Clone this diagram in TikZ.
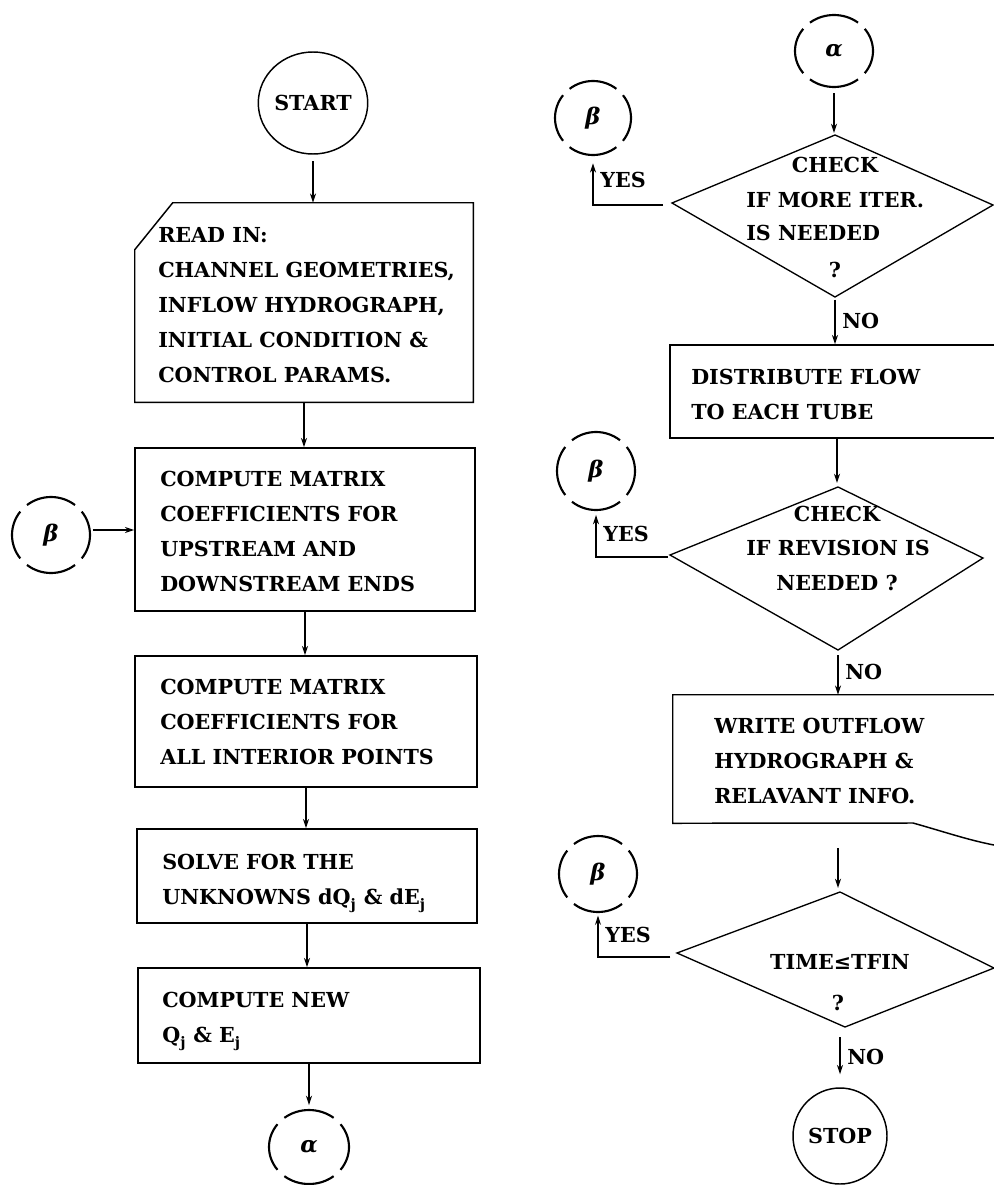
\documentclass[tikz,border=0pt]{standalone}
\usepackage{fontspec}
\setmainfont{DejaVu Serif}
\usetikzlibrary{arrows.meta,shapes.geometric,fit,calc}
\newcommand\gaparcs[3]{\foreach \a in {52,142,232,322}{\draw[ring] (#1.center) ++(\a:#2 and #3) arc[start angle=\a, delta angle=76, x radius=#2, y radius=#3];}}
\begin{document}
\begin{tikzpicture}[x=0.75pt,y=0.75pt,
  txt/.style={font=\bfseries\fontsize{15.5pt}{26.25pt}\selectfont, inner sep=0pt, align=left, text depth=0pt},
  lab/.style={font=\bfseries\fontsize{15.5pt}{18pt}\selectfont, inner sep=0pt},
  greek/.style={font=\bfseries\itshape\fontsize{17pt}{19pt}\selectfont},
  box/.style={draw, line width=1.1pt},
  boxfit/.style={inner sep=0pt},
  ring/.style={line width=1.6pt},
  term/.style={ellipse, draw, line width=1.1pt, inner sep=0pt, font=\bfseries\fontsize{15.5pt}{18pt}\selectfont},
  conn/.style={ellipse, inner sep=0pt, greek},
  arr/.style={line width=1pt, -{Stealth[length=7pt,width=4.5pt]}},
  dia/.style={line width=1pt}
]
\useasboundingbox (0,0) rectangle (994,-1185);
\clip (0,0) rectangle (994,-1185);

% ---------- left column ----------
\node[term, minimum width=69pt, minimum height=76.5pt] (start) at (313,-103) {START};

\node[boxfit, fit={(135,-203) (473,-402)}] (b1) {};
\draw[box] ($(b1.north west)+(38,0)$) -- (b1.north east) -- (b1.south east) -- (b1.south west) -- ($(b1.north west)+(0,-47)$) -- cycle;
\node[txt, anchor=west] (t1) at (158,-305) {READ IN:\\CHANNEL GEOMETRIES,\\INFLOW HYDROGRAPH,\\INITIAL CONDITION \&\\CONTROL PARAMS.};

\node[box, boxfit, fit={(135,-448) (475,-611)}] (b2) {};
\node[txt, anchor=west] (t2) at (160,-531) {COMPUTE MATRIX\\COEFFICIENTS FOR\\UPSTREAM AND\\DOWNSTREAM ENDS};

\node[box, boxfit, fit={(135,-656) (477,-787)}] (b3) {};
\node[txt, anchor=west] (t3) at (160,-722) {COMPUTE MATRIX\\COEFFICIENTS FOR\\ALL INTERIOR POINTS};

\node[box, boxfit, fit={(137,-829) (477,-923)}] (b4) {};
\node[txt, anchor=west] (t4) at (162,-879.5) {SOLVE FOR THE\\UNKNOWNS dQ\textsubscript{j} \& dE\textsubscript{j}};

\node[box, boxfit, fit={(138,-968) (480,-1063)}] (b5) {};
\node[txt, anchor=west] (t5) at (162,-1017.5) {COMPUTE NEW\\Q\textsubscript{j} \& E\textsubscript{j}};

\node[conn, minimum width=60pt, minimum height=55.5pt] (ra1) at (309,-1147) {α};
\gaparcs{ra1}{40}{37}
\node[conn, minimum width=58.5pt, minimum height=57pt] (rbL) at (51,-535) {β};
\gaparcs{rbL}{39}{38}

\draw[arr, shorten <=5pt] (start.south) -- (start.south |- b1.north);
\draw[arr] (b1.south) -- (b1.south |- b2.north);
\draw[arr] (b2.south) -- (b2.south |- b3.north);
\draw[arr] (b3.south) -- (b3.south |- b4.north);
\draw[arr] (b4.south) -- (b4.south |- b5.north);
\draw[arr, shorten >=3.5pt] (b5.south) -- (b5.south |- ra1.north);
\coordinate (bq) at ($(rbL.east)+(0,5)$);
\draw[arr, shorten <=2pt] (bq) -- (bq -| b2.west);

% ---------- right column ----------
\node[conn, minimum width=58.5pt, minimum height=54pt] (ra2) at (834,-51) {α};
\gaparcs{ra2}{39}{36}

\coordinate (d1t) at (835,-135);
\coordinate (d1r) at (993,-205);
\coordinate (d1b) at (835,-297);
\coordinate (d1l) at (672,-203);
\draw[dia] (d1t) -- (d1r) -- (d1b) -- (d1l) -- cycle;
\node[lab] (d1x1) at (835,-165) {CHECK};
\node[lab, anchor=west] (d1x2) at (746,-200) {IF MORE ITER.};
\node[lab, anchor=west] (d1x3) at (746,-233) {IS NEEDED};
\node[lab] (d1x4) at (835,-270) {?};

\node[conn, minimum width=57pt, minimum height=55.5pt] (rb1) at (593,-118) {β};
\gaparcs{rb1}{38}{37}

\node[box, boxfit, fit={(670,-345) (1004,-438)}] (db) {};
\node[txt, anchor=west] (td) at (691,-394.5) {DISTRIBUTE FLOW\\TO EACH TUBE};

\coordinate (d2t) at (838,-487);
\coordinate (d2r) at (983,-558);
\coordinate (d2b) at (838,-650);
\coordinate (d2l) at (670,-555);
\draw[dia] (d2t) -- (d2r) -- (d2b) -- (d2l) -- cycle;
\node[lab] (d2x1) at (837,-514) {CHECK};
\node[lab] (d2x2) at (838,-548) {IF REVISION IS};
\node[lab] (d2x3) at (837,-583) {NEEDED ?};

\node[conn, minimum width=58.5pt, minimum height=58.5pt] (rb2) at (596,-471) {β};
\gaparcs{rb2}{39}{39}

\node[boxfit, fit={(673,-695) (1003,-823)}] (wb) {};
\draw[box] (wb.north east) -- (wb.north west) -- (wb.south west) -- (913,-823) .. controls (945,-832) and (968,-840) .. (994,-845) -- (1010,-848);
\node[txt, anchor=west] (tw) at (714,-761) {WRITE OUTFLOW\\HYDROGRAPH \&\\RELAVANT INFO.};

\coordinate (d3t) at (840,-892);
\coordinate (d3r) at (994,-968);
\coordinate (d3b) at (845,-1027);
\coordinate (d3l) at (677,-953);
\draw[dia] (d3t) -- (d3r) -- (d3b) -- (d3l) -- cycle;
\node[lab] (d3x1) at (840,-962) {TIME≤TFIN};
\node[lab] (d3x2) at (838,-1003) {?};

\node[conn, minimum width=58.5pt, minimum height=57pt] (rb3) at (598,-874) {β};
\gaparcs{rb3}{39}{38}

\node[term, minimum width=70.5pt, minimum height=72pt] (stop) at (840,-1136) {STOP};

\draw[arr, shorten <=4.5pt, shorten >=1.5pt] (ra2.south) -- (ra2.south |- d1t);
\draw[arr, shorten <=2pt] (d1b) -- node[lab, right=5pt] (no1) {NO} (d1b |- db.north);
\draw[arr, shorten >=3pt] (db.south) -- (db.south |- d2t);
\draw[arr, shorten <=4pt] (d2b) -- node[lab, right=5pt] (no2) {NO} (d2b |- wb.north);
\draw[arr, shorten <=18.75pt, shorten >=3pt] (wb.south) -- (wb.south |- d3t);
\draw[arr, shorten <=7.5pt, shorten >=9.75pt] (stop.north |- d3b) -- node[lab, right=5pt] (no3) {NO} (stop.north);

\draw[arr, shorten <=6.75pt, shorten >=6pt] ($(d1l)+(0,-2)$) -| node[lab, pos=0.75, right=5pt] (yes1) {YES} (rb1.south);
\draw[arr, shorten <=1.5pt, shorten >=3.5pt] ($(d2l)+(0,-2)$) -| node[lab, pos=0.75, right=5pt] (yes2) {YES} (rb2.south);
\draw[arr, shorten <=5pt, shorten >=2.5pt] ($(d3l)+(0,-4)$) -| node[lab, pos=0.75, right=5pt] (yes3) {YES} (rb3.south);
\end{tikzpicture}
\end{document}
